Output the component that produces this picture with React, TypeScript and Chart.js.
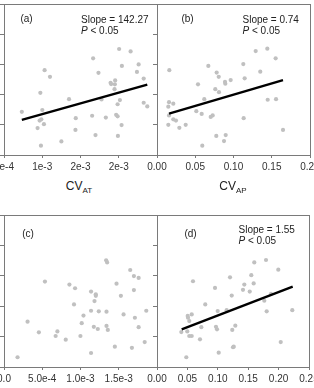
import React, { useEffect, useRef } from "react";
import { Chart, registerables } from "chart.js";
Chart.register(...registerables);

// ---- shared y axis ----
const yTicks = [0, 1, 2, 3, 4, 5];

// ---- panel (a) ----
const aXTicks = [5e-4, 1e-3, 1.5e-3, 2e-3, 2.5e-3];
const aXLabels = ["5e-4", "1e-3", "2e-3", "2e-3", ""];
const aX = [7.33e-4, 9.75e-4, 1.031e-3, 1.101e-3, 1.001e-3, 9.88e-4, 9.66e-4, 1.022e-3, 9.39e-4, 9.83e-4,
  1.25e-3, 1.35e-3, 1.438e-3, 1.434e-3, 1.665e-3, 1.735e-3, 1.652e-3, 1.696e-3, 1.775e-3, 1.831e-3,
  1.893e-3, 1.901e-3, 1.949e-3, 1.953e-3, 1.945e-3, 2.005e-3, 2.041e-3, 2.155e-3, 2.015e-3, 1.985e-3,
  1.966e-3, 1.985e-3, 2.037e-3, 1.989e-3, 2.238e-3, 2.26e-3, 2.326e-3, 2.326e-3, 2.373e-3];
const aY = [1.43, 2.06, 2.81, 2.59, 1.49, 1.18, 1.14, 1.02, 0.89, 0.31,
  0.45, 1.85, 1.22, 0.83, 3.2, 2.72, 1.3, 0.66, 1.84, 1.24,
  2.39, 2.35, 2.34, 2.47, 2.18, 3.51, 2.95, 3.43, 1.82, 1.68,
  1.33, 1.28, 0.99, 0.63, 2.75, 3.0, 2.53, 1.73, 1.61];
const aLineX = [7.33e-4, 2.373e-3];
const aLineY = [1.16, 2.33];

// ---- panel (b) ----
const bXTicks = [0, 0.05, 0.1, 0.15, 0.2];
const bXLabels = ["0.00", "0.05", "0.10", "0.15", "0.20"];
const bX = [0.0161, 0.0157, 0.0213, 0.0148, 0.0157, 0.0213, 0.0248, 0.0148, 0.0292, 0.0375,
  0.0536, 0.0514, 0.0584, 0.0592, 0.0618, 0.0671, 0.0702, 0.0728, 0.0762, 0.078,
  0.0807, 0.081, 0.0775, 0.0889, 0.0893, 0.0963, 0.0898, 0.0876, 0.1128, 0.1146,
  0.1133, 0.129, 0.135, 0.1442, 0.1447, 0.1551, 0.1556, 0.1647];
const bY = [2.81, 1.75, 1.7, 1.6, 1.31, 1.18, 1.14, 1.0, 0.9, 1.0,
  2.34, 1.45, 1.36, 0.31, 1.85, 2.95, 1.26, 1.31, 2.18, 2.73,
  2.59, 2.08, 0.63, 2.42, 2.36, 2.48, 0.66, 0.46, 3.01, 2.54,
  1.22, 3.44, 2.76, 3.52, 1.83, 3.2, 1.85, 0.83];
const bLineX = [0.0157, 0.1647];
const bLineY = [1.37, 2.48];

// ---- panel (c) ----
const cXTicks = [0, 5e-4, 1e-3, 1.5e-3, 2e-3];
const cXLabels = ["0.0", "5.0e-4", "1.0e-3", "1.5e-3", ""];
const cX = [1.77e-4, 3.08e-4, 4.56e-4, 5.35e-4, 6.75e-4, 6.98e-4, 8.07e-4, 8.55e-4, 9.29e-4, 9.15e-4,
  9.99e-4, 1.016e-3, 1.039e-3, 1.138e-3, 1.138e-3, 1.138e-3, 1.174e-3, 1.183e-3, 1.2e-3, 1.2e-3,
  1.226e-3, 1.239e-3, 1.335e-3, 1.348e-3, 1.34e-3, 1.34e-3, 1.357e-3, 1.449e-3, 1.471e-3, 1.528e-3,
  1.563e-3, 1.65e-3, 1.672e-3, 1.698e-3, 1.698e-3, 1.711e-3, 1.76e-3, 1.76e-3, 1.839e-3, 1.86e-3];
const cY = [0.32, 1.49, 1.14, 2.81, 1.02, 1.17, 0.9, 2.71, 2.59, 2.06,
  1.02, 1.44, 1.69, 2.48, 1.85, 0.46, 1.32, 2.17, 2.39, 2.34,
  1.25, 1.83, 3.51, 3.44, 1.82, 1.35, 1.22, 0.67, 2.74, 2.34,
  1.73, 3.19, 0.63, 2.99, 2.53, 1.62, 2.93, 1.31, 0.82, 1.85];

// ---- panel (d) ----
const dXTicks = [0, 0.05, 0.1, 0.15, 0.2, 0.25];
const dXLabels = ["0.00", "0.05", "0.10", "0.15", "0.20", "0.25"];
const dX = [0.04, 0.0482, 0.0498, 0.0505, 0.051, 0.0531, 0.0531, 0.0571, 0.0571, 0.0592,
  0.0707, 0.0729, 0.0794, 0.0954, 0.097, 0.0987, 0.0998, 0.1015, 0.1146, 0.1201,
  0.1229, 0.1238, 0.125, 0.1262, 0.1288, 0.1414, 0.1436, 0.1525, 0.1551, 0.159,
  0.16, 0.1765, 0.1793, 0.1804, 0.1875, 0.1995, 0.2035, 0.2225];
const dY = [1.15, 0.32, 1.17, 1.68, 1.62, 1.51, 1.02, 1.02, 1.73, 2.82,
  0.91, 1.31, 2.06, 2.6, 1.32, 1.24, 1.84, 0.47, 1.87, 2.95,
  2.35, 1.22, 0.65, 0.67, 1.36, 2.54, 2.71, 2.48, 3.02, 2.75,
  3.44, 2.18, 3.52, 1.83, 2.41, 3.2, 0.82, 1.87];
const dLineX = [0.0406, 0.2232];
const dLineY = [1.24, 2.64];

const FONT = "'Liberation Sans', Arial, Helvetica, sans-serif";
const AXIS_COLOR = "#7a7a7a";

const framePlugin = {
  id: "frame",
  afterDraw(chart: any) {
    const { ctx, chartArea: a } = chart;
    const l = Math.floor(a.left), t = Math.floor(a.top);
    const r = Math.floor(a.right), b = Math.floor(a.bottom);
    ctx.save();
    ctx.strokeStyle = AXIS_COLOR;
    ctx.lineWidth = 1;
    ctx.strokeRect(l + 0.5, t + 0.5, r - l, b - t);
    ctx.restore();
  },
};

type PanelProps = {
  left: number; top: number; width: number; height: number;
  xMin: number; xMax: number; xTicks: number[]; xLabels: string[];
  xs: number[]; ys: number[]; lineX?: number[]; lineY?: number[];
};

function Panel(p: PanelProps) {
  const ref = useRef<HTMLCanvasElement>(null);
  useEffect(() => {
    const datasets: any[] = [];
    if (p.lineX && p.lineY) {
      datasets.push({
        type: "line",
        data: p.lineX.map((x, i) => ({ x, y: p.lineY![i] })),
        borderColor: "#000",
        borderWidth: 2.4,
        pointRadius: 0,
        fill: false,
      });
    }
    datasets.push({
      type: "scatter",
      data: p.xs.map((x, i) => ({ x, y: p.ys[i] })),
      backgroundColor: "#c0c0c0",
      borderWidth: 0,
      pointRadius: 2.1,
    });
    const chart = new Chart(ref.current as HTMLCanvasElement, {
      type: "scatter",
      data: { datasets },
      options: {
        animation: false,
        responsive: false,
        maintainAspectRatio: false,
        events: [],
        layout: { padding: { left: 26, right: 25, top: 4, bottom: 0 } },
        plugins: { legend: { display: false }, tooltip: { enabled: false } },
        scales: {
          x: {
            type: "linear",
            min: p.xMin,
            max: p.xMax,
            afterBuildTicks: (s: any) => {
              s.ticks = p.xTicks.map((v) => ({ value: v }));
            },
            ticks: {
              autoSkip: false,
              maxRotation: 0,
              minRotation: 0,
              padding: 3,
              color: "#333",
              font: { family: FONT, size: 10 },
              callback: (_v: any, i: number) => p.xLabels[i],
            },
            grid: { drawOnChartArea: false, drawTicks: true, tickLength: 3, color: AXIS_COLOR },
            border: { display: false },
          },
          y: {
            type: "linear",
            min: 0,
            max: 5,
            afterBuildTicks: (s: any) => {
              s.ticks = yTicks.map((v) => ({ value: v }));
            },
            ticks: { display: false },
            grid: { drawOnChartArea: false, drawTicks: true, tickLength: 4, color: AXIS_COLOR },
            border: { display: false },
          },
        },
      } as any,
      plugins: [framePlugin],
    });
    return () => chart.destroy();
  }, []);
  return (
    <canvas
      ref={ref}
      width={p.width}
      height={p.height}
      style={{ position: "absolute", left: p.left, top: p.top, width: p.width, height: p.height }}
    />
  );
}

const txt: React.CSSProperties = {
  position: "absolute",
  fontFamily: FONT,
  fontSize: 10,
  color: "#222",
  whiteSpace: "nowrap",
  lineHeight: "12px",
};

function Label({ x, y, children, center }: { x: number; y: number; children: any; center?: boolean }) {
  return (
    <div style={{ ...txt, left: x, top: y - 6, transform: center ? "translateX(-50%)" : undefined }}>
      {children}
    </div>
  );
}

function XTitle({ x, y, sub }: { x: number; y: number; sub: string }) {
  return (
    <div style={{ ...txt, fontSize: 12, lineHeight: "14px", left: x, top: y - 7, transform: "translateX(-50%)" }}>
      CV<span style={{ fontSize: 8, position: "relative", top: 3 }}>{sub}</span>
    </div>
  );
}

export default function App() {
  return (
    <div style={{ position: "fixed", left: 0, top: 0, width: 314, height: 388, overflow: "hidden", background: "#fff" }}>
      <Panel left={-26} top={0} width={208} height={176} xMin={5e-4} xMax={2.5e-3} xTicks={aXTicks} xLabels={aXLabels}
        xs={aX} ys={aY} lineX={aLineX} lineY={aLineY} />
      <Panel left={127} top={0} width={208} height={176} xMin={0} xMax={0.2} xTicks={bXTicks} xLabels={bXLabels}
        xs={bX} ys={bY} lineX={bLineX} lineY={bLineY} />
      <Panel left={-26} top={211} width={208} height={177} xMin={0} xMax={2e-3} xTicks={cXTicks} xLabels={cXLabels}
        xs={cX} ys={cY} />
      <Panel left={127} top={211} width={207} height={177} xMin={0} xMax={0.25} xTicks={dXTicks} xLabels={dXLabels}
        xs={dX} ys={dY} lineX={dLineX} lineY={dLineY} />

      <Label x={26.5} y={18.5} center>(a)</Label>
      <Label x={81} y={20}>Slope = 142.27</Label>
      <Label x={81} y={31}><i>P</i> &lt; 0.05</Label>

      <Label x={187.5} y={19} center>(b)</Label>
      <Label x={242.5} y={20}>Slope = 0.74</Label>
      <Label x={242.5} y={31}><i>P</i> &lt; 0.05</Label>

      <Label x={28} y={234} center>(c)</Label>

      <Label x={190.5} y={234} center>(d)</Label>
      <Label x={238.5} y={230}>Slope = 1.55</Label>
      <Label x={238.5} y={241}><i>P</i> &lt; 0.05</Label>

      <XTitle x={79} y={186} sub="AT" />
      <XTitle x={233} y={186} sub="AP" />
    </div>
  );
}
